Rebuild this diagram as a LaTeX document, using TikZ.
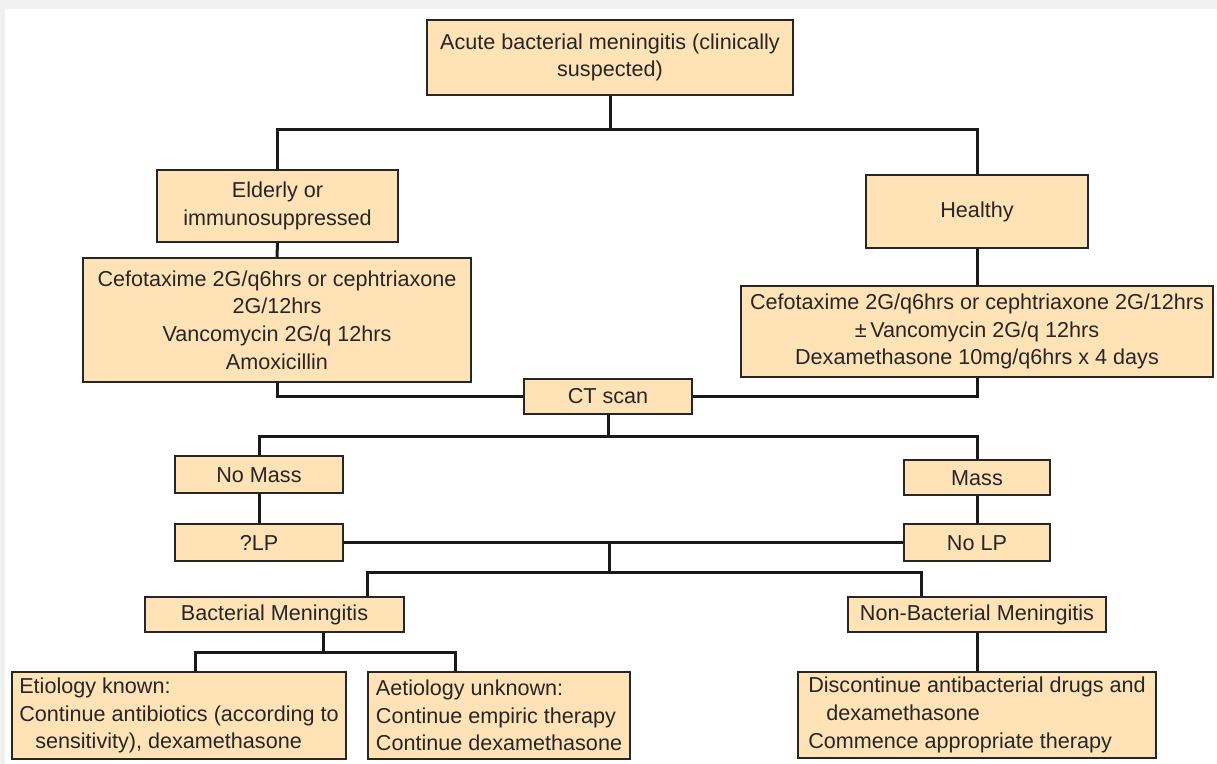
\documentclass[tikz,border=0pt]{standalone}
\usepackage{fontspec}
\setmainfont{Liberation Sans}
\usetikzlibrary{calc}
\definecolor{peach}{RGB}{255,227,182}
\definecolor{ink}{RGB}{38,38,38}
\tikzset{
  bx/.style={rectangle,draw=black!85,fill=peach,line width=1pt,inner sep=0pt,
    align=center,text=ink,font=\fontsize{10.8}{13.8}\selectfont},
  bxl/.style={bx,align=left},
  lnk/.style={draw=black!90,line width=1.5pt},
}
\begin{document}
\begin{tikzpicture}[x=0.5pt,y=-0.5pt]
\useasboundingbox (0,0) rectangle (1217,764);
\fill[black!6] (0,0) rectangle (1217,764);
\fill[white] (5,9) rectangle (1217,764);
% first split: patient group
\node[bx,minimum width=183pt,minimum height=37.5pt] (acute) at (610,57.5)
  {Acute bacterial meningitis (clinically\\suspected)};
\node[bx,minimum width=120.5pt,minimum height=36pt] (eld) at (277.5,206)
  {Elderly or\\immunosuppressed};
\node[bx,minimum width=194pt,minimum height=62pt] (drugl) at (277,320)
  {Cefotaxime 2G/q6hrs or cephtriaxone\\2G/12hrs\\Vancomycin 2G/q 12hrs\\Amoxicillin};
\node[bx,minimum width=111pt,minimum height=36.5pt] (hlt) at (977,211.5) {Healthy};
\node[bx,minimum width=236pt,minimum height=45.5pt] (drugr) at (977,331.5)
  {Cefotaxime 2G/q6hrs or cephtriaxone 2G/12hrs\\±\,Vancomycin 2G/q 12hrs\\Dexamethasone 10mg/q6hrs x 4 days};
\node[bx,minimum width=84pt,minimum height=17.5pt] (ct) at (608,396.5) {CT scan};
% second split: imaging
\node[bx,minimum width=84pt,minimum height=18.5pt] (nomass) at (259,475) {No Mass};
\node[bx,minimum width=73pt,minimum height=17.5pt] (mass) at (977,478) {Mass};
\node[bx,minimum width=84pt,minimum height=18.5pt] (qlp) at (259,543) {?LP};
\node[bx,minimum width=73pt,minimum height=18.5pt] (nolp) at (977,543) {No LP};
% third split: diagnosis
\node[bx,minimum width=129.5pt,minimum height=17.5pt] (bact) at (274.5,615) {Bacterial Meningitis};
\node[bx,minimum width=129pt,minimum height=17.5pt] (nbact) at (977,615) {Non-Bacterial Meningitis};
\node[bxl,minimum width=167pt,minimum height=43.5pt] (known) at (179,715.5)
  {Etiology known:\\Continue antibiotics (according to\\\hspace*{8pt}sensitivity), dexamethasone};
\node[bxl,minimum width=131pt,minimum height=43.5pt] (unknown) at (499,715.5)
  {Aetiology unknown:\\Continue empiric therapy\\Continue dexamethasone};
\node[bxl,minimum width=179pt,minimum height=43pt] (disc) at (977,715)
  {Discontinue antibacterial drugs and\\\hspace*{9pt}dexamethasone\\Commence appropriate therapy};
% connectors
\coordinate (s1) at (610,130);
\coordinate (s2) at (608,437);
\coordinate (s3) at (609,543);
\coordinate (s4) at (609,573);
\coordinate (s5) at (323,653);
\draw[lnk] (acute.south) -- (s1);
\draw[lnk] (eld.north) |- (s1) -| (hlt.north);
\draw[lnk] (eld.south) -- (drugl.north);
\draw[lnk] (hlt.south) -- (drugr.north);
\draw[lnk] (drugl.south) |- (ct.west);
\draw[lnk] (drugr.south) |- (ct.east);
\draw[lnk] (ct.south) -- (s2);
\draw[lnk] (nomass.north) |- (s2) -| (mass.north);
\draw[lnk] (nomass.south) -- (qlp.north);
\draw[lnk] (mass.south) -- (nolp.north);
\draw[lnk] (qlp.east) -- (nolp.west);
\draw[lnk] (s3) -- (s4);
\draw[lnk] ($(bact.north west)!.857!(bact.north east)$) |- (s4)
  -| ($(nbact.north west)!.287!(nbact.north east)$);
\draw[lnk] (bact.south -| s5) -- (s5);
\draw[lnk] ($(known.north west)!.548!(known.north east)$) |- (s5)
  -| ($(unknown.north west)!.336!(unknown.north east)$);
\draw[lnk] (nbact.south) -- (disc.north);
\end{tikzpicture}
\end{document}
